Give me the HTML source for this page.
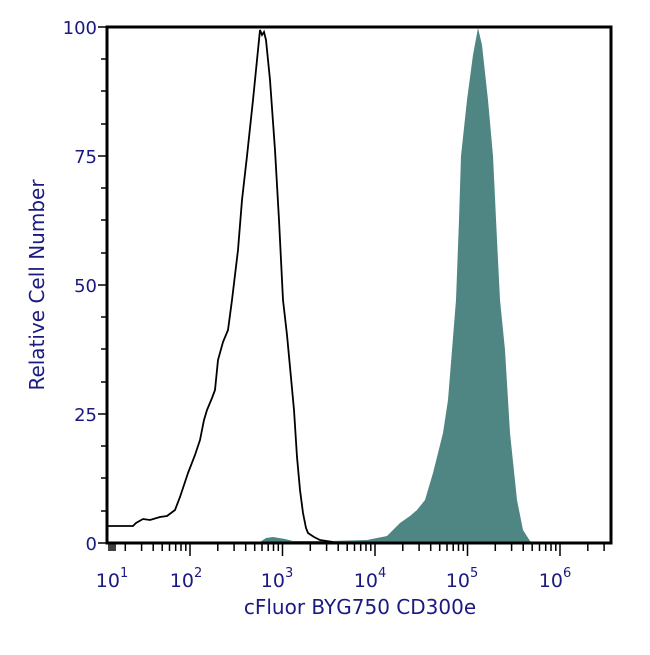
<!DOCTYPE html>
<html><head><meta charset="utf-8"><style>
body{margin:0;background:#fff;}
svg text{font-family:"DejaVu Sans","Liberation Sans",sans-serif;fill:#1a1a80;}
</style></head><body>
<svg width="650" height="650" viewBox="0 0 650 650" xmlns="http://www.w3.org/2000/svg">
<path d="M260,542 L266,538 L273,537 L285,539 L293,541 L330,541 L367,540 L387,536 L400,523 L410,516 L417,510 L425,500 L433,473 L443,433 L448,400 L452,350 L456,300 L459,220 L461,156 L467,100 L473,55 L478,28 L482,45 L488,100 L493,156 L497,240 L500,300 L505,350 L510,433 L517,500 L523,530 L530,541 L535,543 L260,543 Z" fill="#4f8582"/>
<path d="M107,526 L133,526 L136,523 L143,519 L150,520 L160,517 L167,516 L175,510 L180,497 L188,473 L195,455 L200,440 L204,420 L207,410 L212,398 L215,390 L218,360 L223,342 L228,330 L232,300 L235,275 L238,250 L242,200 L247,156 L253,100 L258,50 L260,30 L262,35 L264,32 L266,40 L270,80 L275,150 L279,220 L283,300 L287,335 L290,367 L294,410 L297,457 L300,490 L303,513 L306,528 L308,533 L314,537 L320,540 L333,542" fill="none" stroke="#000" stroke-width="1.8"/>
<rect x="107" y="27" width="504" height="516" fill="none" stroke="#000" stroke-width="3"/>
<g stroke="#000" stroke-width="1.5">
<line x1="98" y1="27" x2="107" y2="27"/><line x1="98" y1="156" x2="107" y2="156"/><line x1="98" y1="285" x2="107" y2="285"/><line x1="98" y1="414" x2="107" y2="414"/><line x1="98" y1="543" x2="107" y2="543"/>
<line x1="101" y1="59" x2="107" y2="59"/><line x1="101" y1="91" x2="107" y2="91"/><line x1="101" y1="124" x2="107" y2="124"/>
<line x1="101" y1="188" x2="107" y2="188"/><line x1="101" y1="220" x2="107" y2="220"/><line x1="101" y1="253" x2="107" y2="253"/>
<line x1="101" y1="317" x2="107" y2="317"/><line x1="101" y1="349" x2="107" y2="349"/><line x1="101" y1="382" x2="107" y2="382"/>
<line x1="101" y1="446" x2="107" y2="446"/><line x1="101" y1="478" x2="107" y2="478"/><line x1="101" y1="511" x2="107" y2="511"/>
</g>
<path stroke="#000" stroke-width="1.5" fill="none" d="
M109,544v7M111,544v7M113,544v7M115,544v7
M125.3,544v7M141.6,544v7M153.2,544v7M162.2,544v7M169.5,544v7M175.7,544v7M181,544v7M185.8,544v7M190,544v12
M217.8,544v7M234.1,544v7M245.7,544v7M254.7,544v7M262,544v7M268.2,544v7M273.5,544v7M278.3,544v7M282.5,544v12
M310.3,544v7M326.6,544v7M338.2,544v7M347.2,544v7M354.5,544v7M360.7,544v7M366,544v7M370.8,544v7M375,544v12
M402.8,544v7M419.1,544v7M430.7,544v7M439.7,544v7M447,544v7M453.2,544v7M458.5,544v7M463.3,544v7M467.5,544v12
M495.3,544v7M511.6,544v7M523.2,544v7M532.2,544v7M539.5,544v7M545.7,544v7M551,544v7M555.8,544v7M560,544v12
M587.8,544v7M604.1,544v7"/>
<g font-size="18" text-anchor="end">
<text x="97" y="34">100</text><text x="97" y="163">75</text><text x="97" y="292">50</text><text x="97" y="421">25</text><text x="97" y="550">0</text>
</g>
<g font-size="19" text-anchor="middle">
<text x="112" y="587">10<tspan font-size="13" dy="-10">1</tspan></text>
<text x="186" y="587">10<tspan font-size="13" dy="-10">2</tspan></text>
<text x="277" y="587">10<tspan font-size="13" dy="-10">3</tspan></text>
<text x="370" y="587">10<tspan font-size="13" dy="-10">4</tspan></text>
<text x="462" y="587">10<tspan font-size="13" dy="-10">5</tspan></text>
<text x="555" y="587">10<tspan font-size="13" dy="-10">6</tspan></text>
</g>
<text x="360" y="614" font-size="20" text-anchor="middle">cFluor BYG750 CD300e</text>
<text transform="translate(44,285) rotate(-90)" font-size="20" text-anchor="middle">Relative Cell Number</text>
</svg>
</body></html>
